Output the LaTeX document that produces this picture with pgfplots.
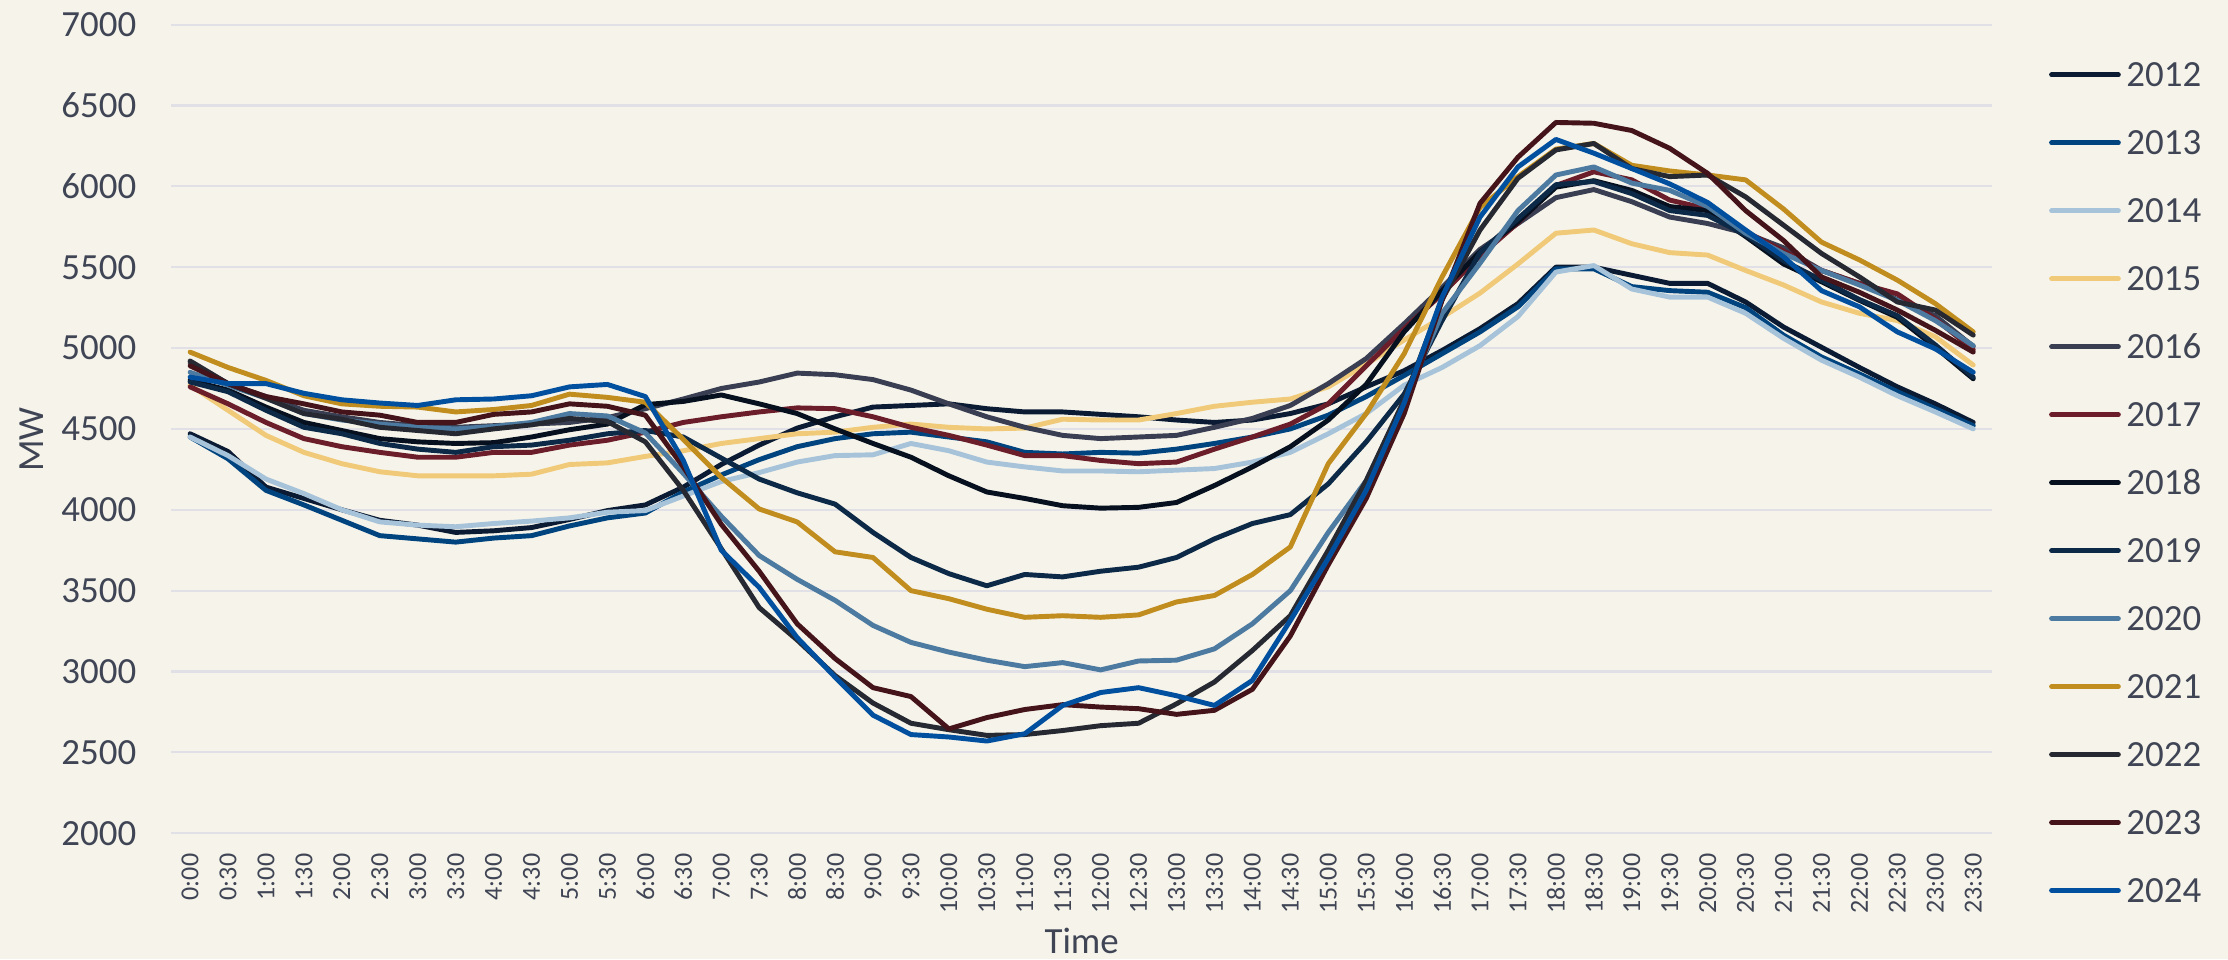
\documentclass[border=0pt]{standalone}
\usepackage{pgfplots}
\usepackage{pgfplotstable}
\pgfplotsset{compat=1.18}
\usepackage{fontspec}
\setmainfont{Carlito}

\definecolor{bg}{HTML}{F6F4EA}
\definecolor{gridc}{HTML}{E0E0E6}
\definecolor{txt}{HTML}{404555}
\definecolor{c2012}{HTML}{0B1B34}
\definecolor{c2013}{HTML}{00447F}
\definecolor{c2014}{HTML}{A7C3DA}
\definecolor{c2015}{HTML}{F0CA78}
\definecolor{c2016}{HTML}{3A3E52}
\definecolor{c2017}{HTML}{6B1D2A}
\definecolor{c2018}{HTML}{06101F}
\definecolor{c2019}{HTML}{0C2948}
\definecolor{c2020}{HTML}{4D7AA0}
\definecolor{c2021}{HTML}{C18D1E}
\definecolor{c2022}{HTML}{262931}
\definecolor{c2023}{HTML}{44141A}
\definecolor{c2024}{HTML}{0150A0}

% half-hour slots 0..47, demand in MW per year
\pgfplotstableread{
t  a2012 a2013 a2014 a2015 a2016 a2017 a2018 a2019 a2020 a2021 a2022 a2023 a2024
0  4470 4450 4450 4770 4910 4760 4800 4790 4850 4975 4920 4890 4820
1  4360 4315 4335 4615 4780 4655 4740 4730 4770 4880 4780 4780 4780
2  4140 4120 4190 4460 4700 4540 4635 4615 4690 4800 4690 4700 4780
3  4070 4030 4100 4355 4615 4440 4540 4510 4595 4705 4595 4655 4720
4  4000 3935 4000 4285 4575 4390 4490 4470 4555 4655 4560 4605 4680
5  3935 3840 3925 4235 4540 4355 4440 4410 4530 4640 4510 4585 4660
6  3905 3820 3905 4210 4520 4325 4420 4375 4510 4635 4490 4540 4645
7  3860 3800 3895 4210 4510 4325 4410 4355 4500 4605 4470 4540 4680
8  3870 3825 3915 4210 4520 4355 4415 4390 4515 4620 4500 4590 4685
9  3890 3840 3930 4220 4530 4355 4450 4400 4540 4645 4525 4605 4705
10 3940 3900 3950 4280 4540 4400 4495 4430 4595 4715 4565 4655 4760
11 3995 3950 3985 4290 4570 4430 4530 4470 4580 4695 4545 4640 4775
12 4030 3980 3995 4330 4625 4480 4650 4490 4475 4665 4420 4585 4700
13 4140 4110 4085 4365 4685 4540 4670 4450 4225 4435 4120 4265 4305
14 4280 4215 4175 4410 4750 4575 4710 4320 3960 4200 3760 3910 3750
15 4400 4310 4230 4440 4790 4605 4655 4190 3717 4005 3395 3620 3520
16 4505 4390 4295 4470 4845 4630 4595 4105 3570 3925 3195 3295 3210
17 4575 4440 4335 4480 4835 4625 4500 4035 3440 3740 2975 3080 2965
18 4635 4470 4340 4510 4805 4575 4410 3860 3285 3705 2805 2900 2730
19 4645 4480 4410 4530 4740 4510 4325 3705 3180 3500 2680 2845 2610
20 4655 4450 4365 4510 4655 4460 4210 3605 3120 3450 2640 2645 2595
21 4625 4420 4295 4500 4575 4400 4110 3530 3070 3385 2605 2715 2570
22 4605 4355 4265 4505 4510 4335 4070 3600 3030 3335 2610 2765 2615
23 4605 4345 4240 4560 4460 4335 4025 3585 3055 3345 2635 2795 2790
24 4590 4355 4240 4555 4440 4305 4010 3620 3010 3335 2665 2780 2870
25 4575 4350 4235 4555 4450 4285 4015 3645 3065 3350 2680 2770 2900
26 4555 4375 4245 4595 4460 4295 4045 3705 3070 3430 2800 2735 2850
27 4540 4410 4255 4640 4510 4375 4150 3820 3140 3470 2935 2760 2790
28 4555 4450 4295 4665 4565 4450 4265 3915 3295 3600 3130 2890 2945
29 4595 4500 4355 4685 4645 4530 4390 3970 3500 3770 3345 3220 3315
30 4655 4585 4470 4760 4780 4655 4555 4160 3860 4285 3750 3660 3700
31 4760 4700 4595 4900 4935 4890 4775 4420 4180 4595 4180 4070 4120
32 4860 4830 4770 5050 5150 5120 5100 4715 4670 4965 4680 4595 4660
33 4985 4965 4880 5190 5375 5335 5355 5170 5215 5440 5300 5295 5315
34 5120 5100 5015 5340 5610 5570 5595 5590 5525 5870 5730 5895 5810
35 5275 5255 5195 5520 5770 5775 5780 5800 5850 6060 6050 6180 6120
36 5500 5490 5470 5710 5930 6005 5995 6010 6070 6230 6225 6395 6290
37 5500 5490 5510 5730 5980 6090 6035 6030 6120 6265 6265 6390 6205
38 5450 5380 5365 5645 5905 6040 5975 5955 6020 6130 6110 6345 6110
39 5400 5355 5315 5590 5810 5915 5875 5850 5975 6095 6060 6235 6015
40 5400 5345 5315 5575 5770 5860 5850 5820 5875 6070 6070 6080 5900
41 5285 5250 5215 5480 5710 5720 5690 5700 5710 6040 5935 5850 5730
42 5130 5080 5060 5390 5620 5600 5520 5540 5585 5860 5760 5665 5565
43 5005 4945 4925 5285 5480 5480 5410 5420 5480 5655 5585 5440 5355
44 4880 4840 4820 5215 5400 5400 5295 5300 5390 5545 5440 5345 5255
45 4760 4730 4705 5170 5300 5335 5190 5200 5295 5420 5285 5235 5100
46 4655 4625 4605 5070 5200 5180 5005 5020 5170 5275 5235 5110 4995
47 4540 4520 4500 4895 5010 4990 4810 4820 5015 5100 5080 4975 4850
}\demand

\begin{document}
\begin{tikzpicture}
\fill[bg] (-48.7pt,-35.9pt) rectangle (585.3pt,237.1pt);
\path[use as bounding box] (-48.7pt,-35.9pt) rectangle (585.3pt,237.1pt);
\begin{axis}[
  at={(0pt,0pt)}, anchor=south west,
  width=518.2pt, height=230.1pt, scale only axis,
  xmin=-0.5, xmax=47.5, ymin=2000, ymax=7000,
  axis line style={draw=none},
  major tick length=0pt,
  ytick={2000,2500,...,7000},
  ymajorgrids, major grid style={gridc, line width=0.6pt},
  xtick={0,...,47},
  xticklabels={0:00,0:30,1:00,1:30,2:00,2:30,3:00,3:30,4:00,4:30,5:00,5:30,
    6:00,6:30,7:00,7:30,8:00,8:30,9:00,9:30,10:00,10:30,11:00,11:30,
    12:00,12:30,13:00,13:30,14:00,14:30,15:00,15:30,16:00,16:30,17:00,17:30,
    18:00,18:30,19:00,19:30,20:00,20:30,21:00,21:30,22:00,22:30,23:00,23:30},
  xticklabel style={rotate=90, anchor=east, font=\fontsize{7.4}{8}\selectfont, text=txt},
  xticklabel shift=2.3pt,
  yticklabel style={font=\fontsize{10.5}{12}\selectfont, text=txt, /pgf/number format/1000 sep={}},
  yticklabel shift=6.4pt,
  /pgf/number format/assume math mode=true,
  xlabel={Time}, ylabel={MW},
  xlabel style={at={(axis description cs:0.5,-0.1334)}, anchor=center, font=\fontsize{10.5}{12}\selectfont, text=txt},
  ylabel style={at={(axis description cs:-0.0768,0.487)}, anchor=center, font=\fontsize{10.5}{12}\selectfont, text=txt},
  legend cell align=left,
  legend image code/.code={\draw[#1] (0pt,0pt) -- (19pt,0pt);},
  legend style={at={(rel axis cs:1,1)}, anchor=north west, xshift=16pt, yshift=-10.8pt,
    draw=none, fill=none, inner sep=0pt, row sep=12.74pt,
    font=\fontsize{10.5}{12}\selectfont, text=txt,
    nodes={inner xsep=1.6pt, inner ysep=0pt, text height=6.6pt, text depth=0pt}},
  every axis plot/.append style={line width=1.4pt, line join=round, line cap=round},
]
\addplot[c2012] table[x=t, y=a2012] {\demand}; \addlegendentry{2012}
\addplot[c2013] table[x=t, y=a2013] {\demand}; \addlegendentry{2013}
\addplot[c2014] table[x=t, y=a2014] {\demand}; \addlegendentry{2014}
\addplot[c2015] table[x=t, y=a2015] {\demand}; \addlegendentry{2015}
\addplot[c2016] table[x=t, y=a2016] {\demand}; \addlegendentry{2016}
\addplot[c2017] table[x=t, y=a2017] {\demand}; \addlegendentry{2017}
\addplot[c2018] table[x=t, y=a2018] {\demand}; \addlegendentry{2018}
\addplot[c2019] table[x=t, y=a2019] {\demand}; \addlegendentry{2019}
\addplot[c2020] table[x=t, y=a2020] {\demand}; \addlegendentry{2020}
\addplot[c2021] table[x=t, y=a2021] {\demand}; \addlegendentry{2021}
\addplot[c2022] table[x=t, y=a2022] {\demand}; \addlegendentry{2022}
\addplot[c2023] table[x=t, y=a2023] {\demand}; \addlegendentry{2023}
\addplot[c2024] table[x=t, y=a2024] {\demand}; \addlegendentry{2024}
\end{axis}
\end{tikzpicture}
\end{document}
